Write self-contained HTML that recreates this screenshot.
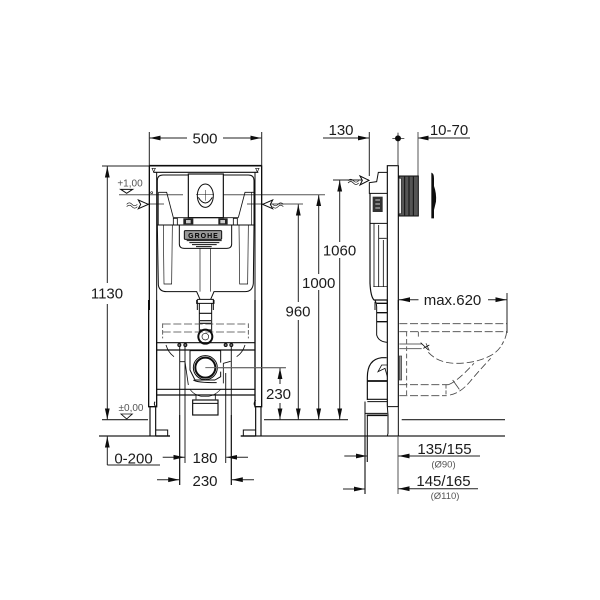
<!DOCTYPE html>
<html><head><meta charset="utf-8"><style>
html,body{margin:0;padding:0;background:#fff}
svg{display:block}
text{font-family:"Liberation Sans",sans-serif;fill:#1a1a1a}
</style></head><body>
<svg width="600" height="600" viewBox="0 0 600 600" xmlns="http://www.w3.org/2000/svg">
<defs>
<marker id="a" markerUnits="userSpaceOnUse" markerWidth="12" markerHeight="6" refX="11" refY="3" orient="auto-start-reverse"><path d="M0 .6L11 3L0 5.4Z" fill="#111"/></marker>
<filter id="b" x="0" y="0" width="100%" height="100%"><feGaussianBlur stdDeviation="0.35"/></filter>
</defs>
<g filter="url(#b)">
<rect width="600" height="600" fill="#fff"/>

<!-- dimension lines -->
<g stroke="#222" stroke-width="1" fill="none">
<path d="M149.3 132V166M261.7 132V166"/>
<path d="M187 138H149.7" marker-end="url(#a)"/><path d="M223 138H261.3" marker-end="url(#a)"/>
<path d="M102 166H149"/>
<path d="M107.3 283V166.5" marker-end="url(#a)"/><path d="M107.3 304V419.5" marker-end="url(#a)"/>
<path d="M102 419.7H148" stroke-width="1.2"/>
<path d="M99 436H170" stroke-width="1.3"/><path d="M241 436H505" stroke-width="1.3"/>
<path d="M264 419.7H348" stroke-width="1.2"/><path d="M401.7 419.7H505" stroke-width="1.2"/>
<path d="M107.3 465V436.5" marker-end="url(#a)"/><path d="M107.3 465H160"/>
<path d="M298.3 302V204.5" marker-end="url(#a)"/><path d="M298.3 320V419.5" marker-end="url(#a)"/>
<path d="M318.7 274V195" marker-end="url(#a)"/><path d="M318.7 290V419.5" marker-end="url(#a)"/>
<path d="M339.7 242V180.5" marker-end="url(#a)"/><path d="M339.7 258V419.5" marker-end="url(#a)"/>
<path d="M280 384V368" marker-end="url(#a)"/><path d="M280 403V419.5" marker-end="url(#a)"/>
<path d="M162.7 457.3H184.5" marker-end="url(#a)"/><path d="M248 457.3H226.2" marker-end="url(#a)"/>
<path d="M157 479.7H179.2" marker-end="url(#a)"/><path d="M254 479.7H231.8" marker-end="url(#a)"/>
<path d="M323 138H369" marker-end="url(#a)"/>
<path d="M470 138H417.5" marker-end="url(#a)"/>
<path d="M369.3 132V176"/>
<path d="M418 132V176" stroke="#555"/>
<path d="M418.5 299.7H399" marker-end="url(#a)"/><path d="M488 299.7H506.5" marker-end="url(#a)"/>
<path d="M507 293V333"/>
<path d="M344.3 456H367" marker-end="url(#a)"/><path d="M343 489H365" marker-end="url(#a)"/>
<path d="M480 456H398.5" marker-end="url(#a)"/><path d="M478 488.7H398.5" marker-end="url(#a)"/>
<path d="M365 436V494M367.3 436V462" stroke-width="1.2"/>
<path d="M398 436V494" stroke="#555"/>
<path d="M333 180H369" />
<path d="M204 367.7H286" stroke="#666"/>
<path d="M119 194.7H183M222 194.7H325" stroke="#555"/>
<path d="M148 204H164M247 204H303" stroke="#555"/>
<!-- 180 / 230 extension lines -->
<path d="M179.7 345V485M185 345V463M225.7 373V463M231.3 345V485" stroke-width="1"/>
</g>

<!-- left view in zoom-1 space -->
<g transform="translate(90,110) scale(.33333)" fill="none" stroke="#111" stroke-width="3">
<path d="M178 167H515" stroke-width="5"/><path d="M178 167V600M515 167V600" stroke-width="4"/>
<path d="M200 187V600M495 187V600"/>
<path d="M190 187H505" stroke-width="3.5"/>
<path d="M186 175L196 175L191 186ZM497 175L507 175L502 186Z" stroke-width="2"/>
<path d="M202 345V212Q202 195 219 195H295M400 195H475Q492 195 492 212V345"/>
<path d="M200 345H495" stroke-width="3"/>
<rect x="295" y="192" width="105" height="131" fill="#fff" stroke-width="3.5"/>
<ellipse cx="346" cy="257" rx="24" ry="35"/>
<path d="M325 262Q346 296 367 262" stroke-width="3"/>
<path d="M205 247H230L250 323M492 247H465L445 323" stroke-width="2.5"/>
<path d="M250 323H445" stroke-width="2.5"/>
<path d="M205 247V345M484 247V345" stroke-width="2"/>
<path d="M250 345V325H262V345M430 345V325H442V345" stroke-width="2.5"/>
<path d="M346 240V272M318 254H372" stroke-width="1.5"/>
<rect x="280" y="325" width="30" height="18" fill="#222" stroke="none"/>
<rect x="385" y="325" width="28" height="18" fill="#222" stroke="none"/>
<rect x="288" y="330" width="14" height="10" fill="#ccc" stroke="none"/>
<rect x="391" y="330" width="14" height="10" fill="#ccc" stroke="none"/>
<path d="M268 345V402Q268 415 283 415H410Q425 415 425 402V345"/>
<rect x="283" y="362" width="112" height="26" fill="#999" stroke="#111" stroke-width="3" rx="3"/>
<path d="M290 392H395M298 398H388M306 404H380M318 410H365" stroke-width="3"/>
<path d="M202 345L205 525Q208 545 230 545H320L330 568M362 568L372 545H465Q488 545 490 520L492 345" stroke-width="3"/>
<path d="M220 345L222 522H245L247 345M447 345L449 522H473L475 345" stroke-width="2"/>
<path d="M330 415V545M362 415V545" stroke-width="2"/>
<path d="M322 568H370V600M322 568V600" stroke-width="3"/>
<path d="M110 283Q118 274 126 283T142 283M110 290Q118 281 126 290T142 290" stroke-width="2"/>
<path d="M145 270L175 283L145 296L152 283Z" fill="#fff"/>
<path d="M580 283Q572 274 564 283T548 283M580 290Q572 281 564 290T548 290" stroke-width="2"/>
<path d="M548 270L518 283L548 296L541 283Z" fill="#fff"/>
<path d="M92 238H128L110 250Z"/>
<circle cx="185" cy="248" r="3" stroke-width="2"/>
</g>

<!-- left view lower, zoom-2 space -->
<g transform="translate(90,300) scale(.33333)" fill="none" stroke="#111" stroke-width="3">
<path d="M176 0V320H200V0M495 0V320H515V0" stroke-width="4"/>
<path d="M180 320V408M197 320V408M497 320V408M513 320V408" stroke-width="3.5"/>
<path d="M197 390H233V408M460 408V390H497" stroke-width="3"/>
<path d="M197 408H240M452 408H497" stroke-width="4"/>
<path d="M195 305Q190 312 197 320M497 300Q488 312 497 320" stroke-width="3"/>
<path d="M320 0V10H372V0M328 10V95M365 10V95" stroke-width="3"/>
<path d="M328 40H365M330 62H363M330 70H363M330 90H363" stroke-width="3.5"/>
<path d="M218 72H475M218 96H475" stroke-dasharray="24 8" stroke="#444" stroke-width="2.5"/>
<path d="M218 70V115M475 70V115" stroke-dasharray="14 6" stroke="#444" stroke-width="2.5"/>
<circle cx="346" cy="110" r="21" stroke-width="6"/><circle cx="346" cy="110" r="10" stroke-width="2"/>
<path d="M200 128H495M200 150H495" stroke-width="3.5"/>
<circle cx="268" cy="135" r="4.5" fill="#777"/><circle cx="286" cy="135" r="4.5" fill="#777"/>
<circle cx="407" cy="135" r="4.5" fill="#777"/><circle cx="424" cy="135" r="4.5" fill="#777"/>
<path d="M228 135Q235 158 252 170M465 135Q458 158 440 170" stroke-width="2.5"/>
<path d="M270 185H285L295 255M400 250V190L422 184" stroke-width="2.5"/>
<path d="M300 152H392V188M300 152V210L315 240H375M392 215V230L375 240" stroke-width="3"/>
<circle cx="346" cy="203" r="37" fill="#fff" stroke="none"/>
<circle cx="346" cy="203" r="36" stroke-width="3"/>
<circle cx="346" cy="203" r="30" stroke-width="6"/>
<path d="M346 203H587" stroke="#666" stroke-width="3"/>
<path d="M310 240Q320 248 380 248" stroke-width="3"/>
<path d="M200 268H495M200 285H495" stroke-width="3.5"/>
<path d="M300 268Q316 290 345 290Q372 290 392 268" stroke-width="2"/>
<path d="M318 282V298M376 282V298" stroke-width="2.5"/>
<rect x="308" y="300" width="76" height="45" stroke-width="3.5" fill="#fff"/>
<path d="M308 310H384" stroke-width="3"/>
<path d="M93 342H127L110 357Z" stroke-width="2.5"/>
<path d="M269 345V555M424 345V555" stroke-width="3"/>
</g>

<!-- right view upper, zoom-3 space -->
<g transform="translate(310,110) scale(.33333)" fill="none" stroke="#111" stroke-width="3">
<path d="M232 600V167H265V600" stroke-width="3.5"/>
<path d="M264 68V167" stroke="#444"/>
<circle cx="264" cy="85" r="9" fill="#111" stroke="none"/><path d="M247 85H283" stroke-width="2"/>
<path d="M232 187H205L200 215L178 218V250H232" stroke-width="3"/>
<path d="M180 250V520Q182 560 192 570H232" stroke-width="3.5"/>
<path d="M180 340H232" stroke-width="3"/>
<rect x="188" y="260" width="30" height="46" fill="#333" stroke="none"/>
<path d="M196 270H210M196 282H210M196 294H210" stroke="#ccc" stroke-width="3"/>
<path d="M192 340V530M206 345V530M220 390V530M206 385H230" stroke-width="2.5"/>
<path d="M190 530H232" stroke-width="2"/>
<path d="M195 575V600" stroke-width="3"/>
<rect x="267" y="198" width="58" height="120" fill="#555" stroke="#111" stroke-width="3"/>
<path d="M284 200V316M297 200V316M310 200V316" stroke="#111" stroke-width="3"/>
<rect x="267" y="205" width="7" height="106" fill="#eee" stroke="#333" stroke-width="2"/>
<path d="M364 188Q372 190 372 205V228Q380 250 378 275L372 300V325H364Z" fill="#111" stroke="none"/>
<path d="M114 212Q122 203 130 212T146 212M114 219Q122 210 130 219T146 219" stroke-width="2"/>
<path d="M150 198L177 211L150 225L157 211Z" fill="#fff"/>
</g>

<!-- right view lower, zoom-4 space -->
<g transform="translate(310,300) scale(.33333)" fill="none" stroke="#111" stroke-width="3">
<path d="M232 0V320M265 0V320" stroke-width="3.5"/>
<path d="M232 320H265V408M232 320L234 345V400L232 408" stroke-width="3"/>
<path d="M195 0Q200 10 200 20V105Q205 125 232 127" stroke-width="3"/>
<path d="M200 10H232M200 38H232M200 65H232" stroke-width="4"/>
<path d="M230 173H215Q172 178 172 232V300" stroke-width="3.5"/>
<path d="M232 195H215L204 215L225 205L232 230" stroke-width="2.5"/>
<path d="M172 243H232" stroke-width="5"/>
<path d="M172 298H232" stroke-width="3.5"/>
<path d="M172 305H232M165 305V340H232" stroke-width="3"/>
<path d="M170 346H232" stroke-width="5"/>
<path d="M172 346V408M165 305V408" stroke-width="3"/>
<path d="M268 71H590M268 95H590" stroke="#444" stroke-width="2.5" stroke-dasharray="24 8"/>
<path d="M590 95Q588 115 575 135M355 157Q385 190 440 190Q500 190 545 165Q570 150 580 125" stroke="#444" stroke-width="2.5" stroke-dasharray="22 9"/>
<path d="M290 95V285" stroke="#444" stroke-width="2.5" stroke-dasharray="14 8"/>
<path d="M325 95V110M348 130L358 152" stroke="#444" stroke-width="2.5"/>
<path d="M268 132H335M268 146H335" stroke="#666" stroke-width="3"/>
<path d="M332 128L355 150M340 145L358 135" stroke-width="2.5"/>
<rect x="268" y="168" width="7" height="72" fill="#999" stroke="#444" stroke-width="2"/>
<path d="M268 254H415M268 287H410" stroke="#444" stroke-width="2.5" stroke-dasharray="24 8"/>
<path d="M408 254V287" stroke="#444" stroke-width="2.5" stroke-dasharray="12 5"/>
<path d="M415 254Q440 246 492 190M420 285Q450 280 480 245Q500 220 542 175" stroke="#444" stroke-width="2.5" stroke-dasharray="22 9"/>
<path d="M428 240L448 268" stroke="#444" stroke-width="2.5"/>
</g>

<!-- labels -->
<g font-size="15" text-anchor="middle">
<text x="205" y="143.5">500</text>
<text x="107" y="298.5">1130</text>
<text x="205" y="463">180</text>
<text x="205" y="486">230</text>
<text x="133.5" y="463.5">0-200</text>
<text x="298" y="316.5">960</text>
<text x="318.7" y="288">1000</text>
<text x="339.5" y="255.5">1060</text>
<text x="278.5" y="399">230</text>
<text x="341" y="135">130</text>
<text x="449" y="135">10-70</text>
<text x="452.5" y="305">max.620</text>
<text x="444.5" y="454">135/155</text>
<text x="443.5" y="486">145/165</text>
</g>
<g text-anchor="middle">
<text x="130" y="186.5" font-size="10" style="fill:#555">+1,00</text>
<text x="131" y="411" font-size="10" style="fill:#555">±0,00</text>
<text x="443.5" y="467.5" font-size="9.5" style="fill:#555">(Ø90)</text>
<text x="445" y="499" font-size="9.5" style="fill:#555">(Ø110)</text>
<text x="203.5" y="238" font-size="7" font-weight="bold" letter-spacing="1" style="fill:#000">GROHE</text>
</g>
</g>
</svg>
</body></html>
